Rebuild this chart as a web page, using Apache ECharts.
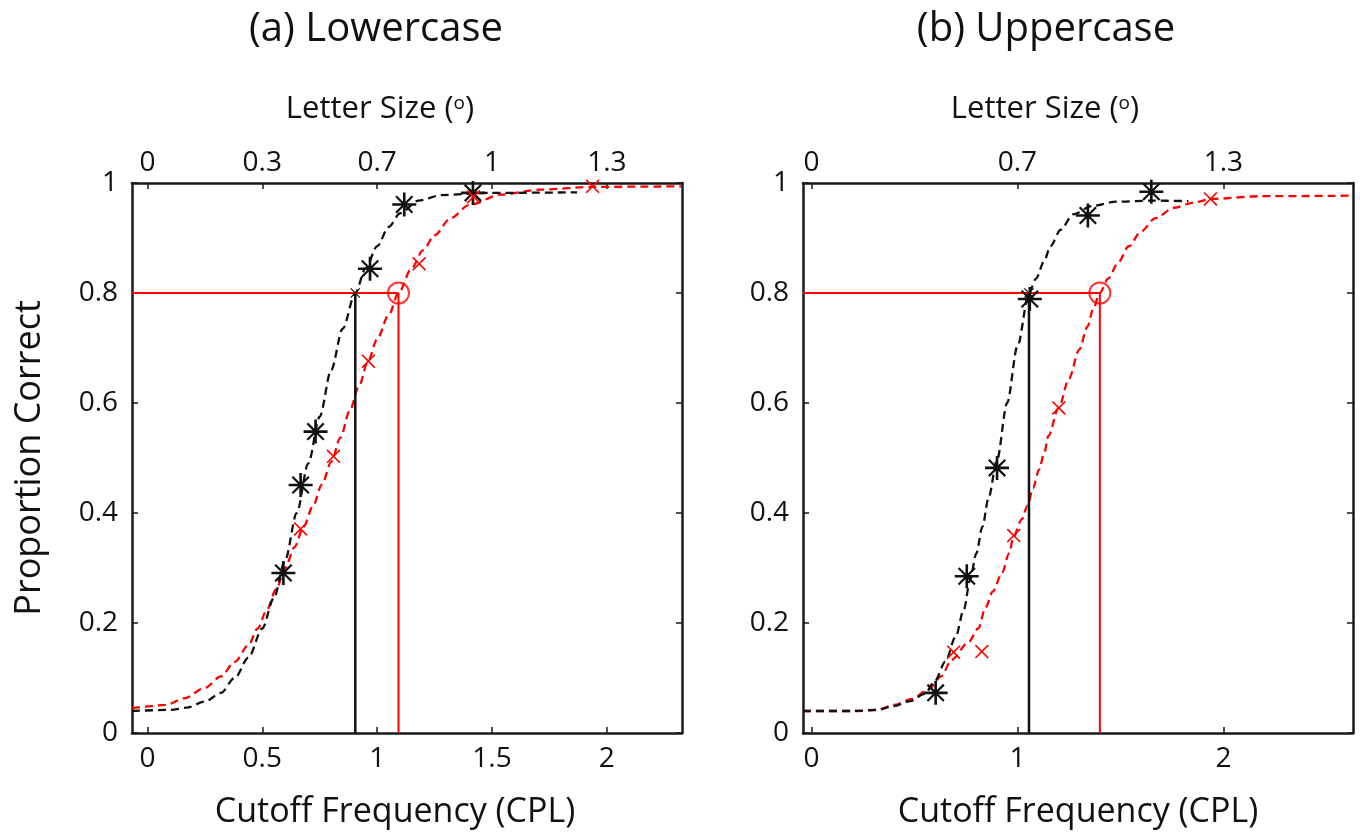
<!DOCTYPE html>
<html>
<head>
<meta charset="utf-8">
<title>Proportion correct vs cutoff frequency</title>
<script src="https://cdn.jsdelivr.net/npm/echarts@6/dist/echarts.min.js"></script>
<style>
  html, body { margin: 0; padding: 0; background: #fff; }
  #chart { width: 1360px; height: 840px; }
</style>
</head>
<body>
<div id="chart"></div>
<script>
// tick labels
const aTickCPL = [0, 0.5, 1, 1.5, 2]
const aTickDeg = ['0', '0.3', '0.7', '1', '1.3']
const bTickCPL = [0, 1, 2]
const bTickDeg = ['0', '0.7', '1.3']

// criterion and thresholds
const criterion = 0.8
const aThrBlack = 0.905
const aThrRed = 1.093
const bThrBlack = 1.056
const bThrRed = 1.400

// (a) Lowercase - measured points
const aBlackPts = [[0.592, 0.291], [0.667, 0.451], [0.732, 0.548], [0.969, 0.844], [1.118, 0.961], [1.417, 0.982]]
const aRedPts = [[0.667, 0.371], [0.81, 0.503], [0.962, 0.676], [1.183, 0.853], [1.42, 0.975], [1.938, 0.994]]
// (a) fitted curves
const aBlackFit = [[-0.067, 0.040], [0.10, 0.042], [0.17, 0.046], [0.25, 0.057], [0.32, 0.073], [0.38, 0.100],
  [0.44, 0.137], [0.50, 0.190], [0.55, 0.245], [0.60, 0.315], [0.65, 0.400], [0.70, 0.490], [0.75, 0.575],
  [0.80, 0.660], [0.85, 0.735], [0.905, 0.800], [0.95, 0.845], [1.00, 0.885], [1.05, 0.920], [1.10, 0.945],
  [1.18, 0.968], [1.28, 0.978], [1.48, 0.982], [1.87, 0.983]]
const aRedFit = [[-0.067, 0.045], [0.08, 0.051], [0.16, 0.063], [0.25, 0.082], [0.32, 0.103], [0.38, 0.129],
  [0.44, 0.160], [0.48, 0.190], [0.52, 0.224], [0.56, 0.261], [0.60, 0.300], [0.64, 0.338], [0.68, 0.375],
  [0.72, 0.412], [0.76, 0.452], [0.80, 0.493], [0.84, 0.537], [0.88, 0.585], [0.92, 0.630], [0.96, 0.675],
  [1.00, 0.716], [1.05, 0.760], [1.093, 0.800], [1.15, 0.845], [1.20, 0.878], [1.25, 0.905], [1.32, 0.936],
  [1.40, 0.960], [1.54, 0.979], [1.71, 0.988], [1.95, 0.993], [2.327, 0.994]]

// (b) Uppercase - measured points
const bBlackPts = [[0.603, 0.073], [0.754, 0.285], [0.901, 0.482], [1.060, 0.789], [1.342, 0.941], [1.650, 0.984]]
const bRedPts = [[0.690, 0.147], [0.827, 0.148], [0.982, 0.359], [1.201, 0.591], [1.937, 0.971]]
// (b) fitted curves
const bBlackFit = [[-0.041, 0.040], [0.20, 0.040], [0.32, 0.042], [0.40, 0.049], [0.48, 0.058], [0.55, 0.071],
  [0.60, 0.095], [0.65, 0.130], [0.70, 0.175], [0.74, 0.225], [0.77, 0.278], [0.80, 0.326], [0.83, 0.375],
  [0.86, 0.428], [0.90, 0.495], [0.95, 0.600], [1.00, 0.703], [1.056, 0.800], [1.09, 0.826], [1.13, 0.858],
  [1.16, 0.885], [1.21, 0.915], [1.27, 0.943], [1.36, 0.958], [1.48, 0.966], [1.65, 0.968], [1.83, 0.967]]
const bRedFit = [[-0.041, 0.040], [0.23, 0.040], [0.32, 0.042], [0.40, 0.051], [0.49, 0.062], [0.57, 0.080],
  [0.63, 0.103], [0.68, 0.133], [0.76, 0.164], [0.81, 0.190], [0.845, 0.228], [0.88, 0.257], [0.925, 0.291],
  [0.96, 0.327], [0.98, 0.356], [1.02, 0.388], [1.05, 0.414], [1.075, 0.445], [1.105, 0.479], [1.13, 0.509],
  [1.15, 0.540], [1.20, 0.591], [1.25, 0.644], [1.30, 0.697], [1.34, 0.739], [1.37, 0.774], [1.40, 0.800],
  [1.44, 0.826], [1.49, 0.856], [1.54, 0.885], [1.60, 0.912], [1.67, 0.936], [1.76, 0.955], [1.85, 0.964],
  [1.94, 0.971], [2.18, 0.976], [2.629, 0.977]]

// axis ranges
const aXMin = -0.067, aXMax = 2.327
const bXMin = -0.041, bXMax = 2.629

const RED = '#ff0000'
const BLACK = '#111'
const FONT = 'Open Sans'

// marker shapes
const STAR = 'path://M-10,-1.1L10,-1.1L10,1.1L-10,1.1Z M-1.1,-10L1.1,-10L1.1,10L-1.1,10Z M-6.2,-7.5L7.5,6.2L6.2,7.5L-7.5,-6.2Z M6.2,-7.5L7.5,-6.2L-6.2,7.5L-7.5,6.2Z'
const CROSS = 'path://M-6,-5L-5,-6L6,5L5,6Z M5,-6L6,-5L-5,6L-6,5Z'

const axisLine = { show: true, onZero: false, lineStyle: { color: '#1a1a1a', width: 2.5 } }
const axisTick = { show: true, inside: true, length: 6, lineStyle: { color: '#1a1a1a', width: 1.5 } }

function bottomAxis (grid, min, max, ticks, padRight) {
  return {
    type: 'value', gridIndex: grid, position: 'bottom', min, max,
    axisLine, axisTick: Object.assign({ customValues: ticks }, axisTick),
    axisLabel: { customValues: ticks, fontSize: 28, color: '#111', margin: 12, fontFamily: FONT },
    splitLine: { show: false },
    name: 'Cutoff Frequency (CPL)', nameLocation: 'middle', nameGap: 62,
    nameTextStyle: { fontSize: 34, color: '#111', fontFamily: FONT, padding: [0, padRight, 0, 0] }
  }
}

function topAxis (grid, min, max, ticks, labels, padRight) {
  return {
    type: 'value', gridIndex: grid, position: 'top', min, max,
    axisLine, axisTick: Object.assign({ customValues: ticks }, axisTick),
    axisLabel: {
      customValues: ticks, fontSize: 28, color: '#111', margin: 6, fontFamily: FONT,
      formatter: v => labels[ticks.indexOf(v)]
    },
    splitLine: { show: false },
    name: 'Letter Size ({sup|o})', nameLocation: 'middle', nameGap: 56,
    nameTextStyle: {
      fontSize: 31, color: '#111', fontFamily: FONT, padding: [0, padRight, 0, 0], lineHeight: 36,
      rich: { sup: { fontSize: 19, lineHeight: 36, verticalAlign: 'top', padding: [3, 0, 0, 0], color: '#111', fontFamily: FONT } }
    }
  }
}

function leftAxis (grid, withName) {
  return {
    type: 'value', gridIndex: grid, position: 'left', min: 0, max: 1, interval: 0.2,
    axisLine, axisTick,
    axisLabel: { fontSize: 28, color: '#111', margin: 14, fontFamily: FONT },
    splitLine: { show: false },
    name: withName ? 'Proportion Correct' : '', nameLocation: 'middle', nameGap: 84,
    nameTextStyle: { fontSize: 36, color: '#111', fontFamily: FONT }
  }
}

function rightAxis (grid) {
  return {
    type: 'value', gridIndex: grid, position: 'right', min: 0, max: 1, interval: 0.2,
    axisLine, axisTick, axisLabel: { show: false }, splitLine: { show: false }
  }
}

function fit (data, color, xi, yi) {
  return {
    type: 'line', xAxisIndex: xi, yAxisIndex: yi, data, smooth: 0.3, smoothMonotone: 'x',
    symbol: 'none', silent: true, z: 2,
    lineStyle: { color, width: 2.3, type: [8, 5] }
  }
}

function segment (data, color, width, xi, yi) {
  return {
    type: 'line', xAxisIndex: xi, yAxisIndex: yi, data, symbol: 'none', silent: true, z: 3,
    lineStyle: { color, width }
  }
}

function points (data, symbol, size, color, xi, yi, extra) {
  return Object.assign({
    type: 'scatter', xAxisIndex: xi, yAxisIndex: yi, data, symbol, symbolSize: size, silent: true, z: 5,
    itemStyle: { color, opacity: 1 }
  }, extra || {})
}

function panel (xi, yi, xMin, blackFit, redFit, blackPts, redPts, thrBlack, thrRed) {
  return [
    fit(redFit, RED, xi, yi),
    fit(blackFit, BLACK, xi, yi),
    segment([[thrBlack, 0], [thrBlack, criterion]], BLACK, 2.5, xi, yi),
    segment([[thrRed, 0], [thrRed, criterion]], RED, 2, xi, yi),
    segment([[xMin, criterion], [thrRed, criterion]], RED, 2, xi, yi),
    points(blackPts, STAR, 24, BLACK, xi, yi),
    points(redPts, CROSS, 14, RED, xi, yi),
    points([[thrBlack, criterion]], CROSS, 10, BLACK, xi, yi),
    points([[thrRed, criterion]], 'circle', 21, RED, xi, yi, {
      itemStyle: { color: 'rgba(0,0,0,0)', borderColor: RED, borderWidth: 2 }
    })
  ]
}

const chart = echarts.init(document.getElementById('chart'))
const option = {
  animation: false,
  backgroundColor: '#fff',
  textStyle: { fontFamily: FONT },
  graphic: [
    { type: 'text', x: 376, y: 30, style: { text: '(a) Lowercase', fontSize: 40, fontFamily: FONT, fill: '#111', align: 'center', verticalAlign: 'middle' } },
    { type: 'text', x: 1046, y: 30, style: { text: '(b) Uppercase', fontSize: 40, fontFamily: FONT, fill: '#111', align: 'center', verticalAlign: 'middle' } }
  ],
  grid: [
    { left: 132, top: 183, width: 550, height: 550 },
    { left: 803, top: 183, width: 550, height: 550 }
  ],
  xAxis: [
    bottomAxis(0, aXMin, aXMax, aTickCPL, 24),
    topAxis(0, aXMin, aXMax, aTickCPL, aTickDeg, 54),
    bottomAxis(1, bXMin, bXMax, bTickCPL, 0),
    topAxis(1, bXMin, bXMax, bTickCPL, bTickDeg, 66)
  ],
  yAxis: [
    leftAxis(0, true),
    rightAxis(0),
    leftAxis(1, false),
    rightAxis(1)
  ],
  series: [].concat(
    panel(0, 0, aXMin, aBlackFit, aRedFit, aBlackPts, aRedPts, aThrBlack, aThrRed),
    panel(2, 2, bXMin, bBlackFit, bRedFit, bBlackPts, bRedPts, bThrBlack, bThrRed)
  )
}
chart.setOption(option)
</script>
</body>
</html>
